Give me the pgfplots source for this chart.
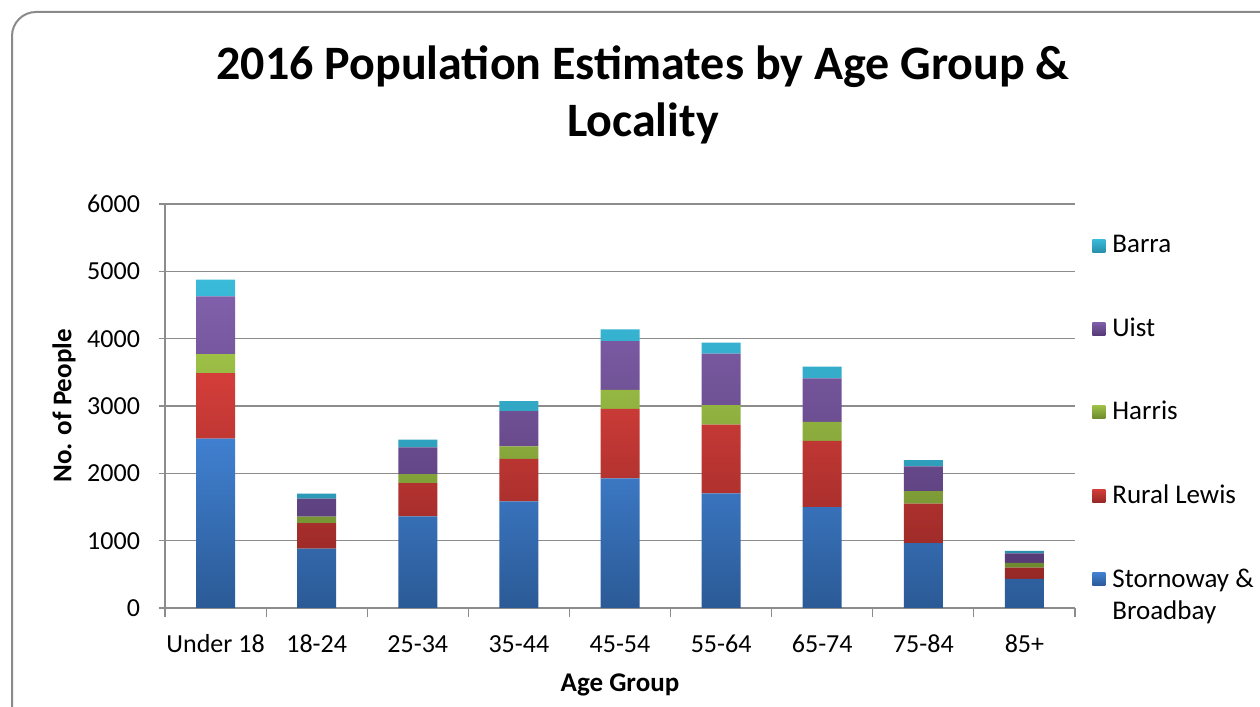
\documentclass[border=0pt]{standalone}
\usepackage{pgfplots}
\pgfplotsset{compat=1.18}
\usepackage{fontspec}
\setmainfont{Carlito}

% series colours: lighter top, darker bottom of each segment
\definecolor{stoT}{HTML}{4080D0}\definecolor{stoB}{HTML}{2B5A96}
\definecolor{rurT}{HTML}{D43E3A}\definecolor{rurB}{HTML}{952826}
\definecolor{harT}{HTML}{9DC046}\definecolor{harB}{HTML}{6D8A2F}
\definecolor{uisT}{HTML}{8060AA}\definecolor{uisB}{HTML}{563A76}
\definecolor{barT}{HTML}{3ABBDA}\definecolor{barB}{HTML}{2890AC}
\definecolor{framegray}{HTML}{8A8A8A}
\definecolor{gridgray}{HTML}{8C8C8C}

\pgfplotstableread{
x  sto   rur   har  uis  bar
0  2515  975   282  857  247
1  881   381   94   268  74
2  1361  495   134  396  114
3  1583  630   189  521  149
4  1926  1032  283  724  174
5  1702  1023  287  765  163
6  1497  986   283  644  174
7  962   589   184  367  94
8  431   169   69   144  35
}\popdata

\begin{document}
\begin{tikzpicture}[x=1pt,y=1pt]
\useasboundingbox (0,0) rectangle (630,353.5);
\begin{scope}
  \clip (0,0) rectangle (630,353.5);
  \draw[line width=1pt, draw=framegray, rounded corners=12pt, fill=white]
    (6,-30) rectangle (680,347.5);
\end{scope}
\begin{axis}[
  at={(82.5pt,49.5pt)}, anchor=south west,
  scale only axis, width=455pt, height=202pt,
  ybar stacked, bar width=19.5pt,
  xmin=-0.5, xmax=8.5, ymin=0, ymax=6000,
  ytick={0,1000,...,6000},
  xtick={0,...,8},
  xticklabels={Under 18,18-24,25-34,35-44,45-54,55-64,65-74,75-84,85+},
  major x tick style={draw=none},
  extra x ticks={-0.5,0.5,...,8.5},
  extra x tick labels={},
  extra x tick style={major tick length=4.5pt, tick align=outside, grid=none,
    major x tick style={draw=gridgray, line width=0.6pt}},
  ytick align=outside, major tick length=3pt,
  axis lines*=left,
  axis line style={draw=gridgray, line width=0.6pt},
  y tick style={draw=gridgray, line width=0.6pt},
  ymajorgrids, grid style={draw=gridgray, line width=0.6pt},
  /pgf/number format/assume math mode=true,
  /pgf/number format/set thousands separator={},
  ticklabel style={font=\fontsize{13}{15}\selectfont, text=black},
  xticklabel style={yshift=-9.5pt, text height=9pt, text depth=2.5pt},
  yticklabel style={xshift=-6pt},
  xlabel={\textbf{Age Group}}, ylabel={\textbf{No. of People}},
  label style={font=\fontsize{13.5}{16}\selectfont},
  xlabel style={at={(axis description cs:0.5,-0.1906)}, anchor=center},
  ylabel style={at={(axis description cs:-0.111,0.5)}, anchor=center, rotate=0},
  legend style={at={(1,1)}, anchor=north west, xshift=8.5pt, yshift=-13.5pt,
    draw=none, fill=none, inner sep=0pt, row sep=27pt,
    font=\fontsize{13.5}{16}\selectfont,
    cells={anchor=west}},
  legend image code/.code={\path[#1, draw=none] (0pt,-3.25pt) rectangle (6.5pt,3.25pt);
    \path (0pt,0pt) -- (8pt,0pt);},
  reverse legend,
]
\addplot[draw=none, top color=stoT, bottom color=stoB] table[x=x, y=sto] {\popdata};
\addlegendentry{\parbox[t]{90pt}{Stornoway \&\\Broadbay}}
\addplot[draw=none, top color=rurT, bottom color=rurB] table[x=x, y=rur] {\popdata};
\addlegendentry{Rural Lewis}
\addplot[draw=none, top color=harT, bottom color=harB] table[x=x, y=har] {\popdata};
\addlegendentry{Harris}
\addplot[draw=none, top color=uisT, bottom color=uisB] table[x=x, y=uis] {\popdata};
\addlegendentry{Uist}
\addplot[draw=none, top color=barT, bottom color=barB] table[x=x, y=bar] {\popdata};
\addlegendentry{Barra}
\end{axis}
\node[font=\bfseries\fontsize{24}{28}\selectfont, anchor=base]
  at (321.5,313.5) {2016 Population Estimates by Age Group \&};
\node[font=\bfseries\fontsize{24}{28}\selectfont, anchor=base]
  at (321.5,285) {Locality};
\end{tikzpicture}
\end{document}
